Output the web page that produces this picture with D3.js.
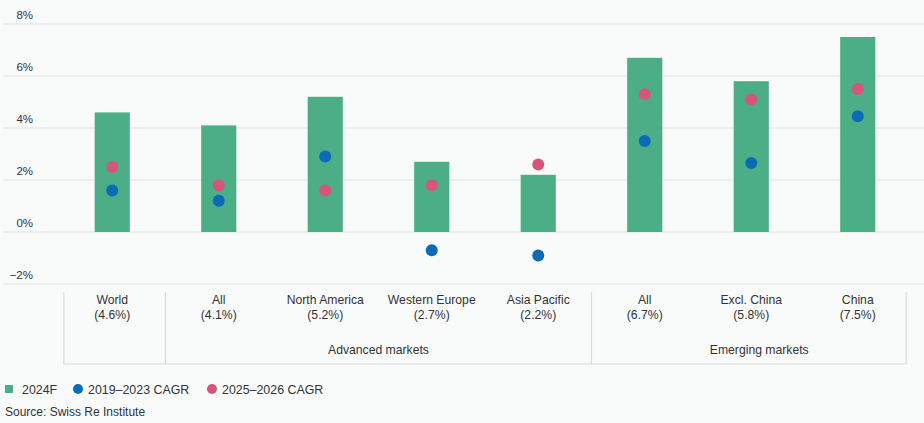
<!DOCTYPE html>
<html>
<head>
<meta charset="utf-8">
<script src="https://cdn.jsdelivr.net/npm/d3@7"></script>
<style>
  body { margin: 0; background: #f9fbfb; }
  svg { display: block; font-family: "Liberation Sans", Arial, sans-serif; }
</style>
</head>
<body>
<div id="chart"></div>
<script>
// categories and series
var categories = ["World", "All", "North America", "Western Europe", "Asia Pacific", "All", "Excl. China", "China"]
var keys = ["world", "adv_all", "na", "we", "ap", "em_all", "em_xcn", "cn"]
var bar2024 = [4.6, 4.1, 5.2, 2.7, 2.2, 6.7, 5.8, 7.5]
var cagr1923 = [1.6, 1.2, 2.9, -0.7, -0.9, 3.5, 2.65, 4.45]
var cagr2526 = [2.5, 1.8, 1.6, 1.8, 2.6, 5.3, 5.1, 5.5]
var yTicks = [-2, 0, 2, 4, 6, 8]
var groups = [
  {name: "Advanced markets", from: 1, to: 4},
  {name: "Emerging markets", from: 5, to: 7}
]
var seriesNames = ["2024F", "2019\u20132023 CAGR", "2025\u20132026 CAGR"]

var width = 924, height = 423
var colors = {bar: "#4bae86", blue: "#0b6bb7", pink: "#d6557d"}

var svg = d3.select("#chart").append("svg")
  .attr("width", width)
  .attr("height", height)

var yScale = d3.scaleLinear().domain([-2, 8]).range([284, 24])
var xScale = d3.scaleBand().domain(keys).range([59, 911])
  .paddingInner(0.67).paddingOuter(0.335)
var step = xScale.step()
var cx = k => xScale(k) + xScale.bandwidth() / 2

// gridlines + tick labels
var grid = svg.append("g")
grid.selectAll("line").data(yTicks).enter().append("line")
  .attr("x1", 3).attr("x2", width)
  .attr("y1", d => yScale(d)).attr("y2", d => yScale(d))
  .attr("stroke", "#e2e4e4").attr("stroke-width", 1.2)
grid.selectAll("text").data(yTicks).enter().append("text")
  .attr("x", 33).attr("y", d => yScale(d) - 5)
  .attr("text-anchor", "end")
  .attr("font-size", 11.5).attr("fill", "#333")
  .text(d => (d < 0 ? "\u2212" + Math.abs(d) : d) + "%")

// bars
svg.append("g").selectAll("rect").data(keys).enter().append("rect")
  .attr("x", d => xScale(d))
  .attr("y", (d, i) => yScale(bar2024[i]))
  .attr("width", xScale.bandwidth())
  .attr("height", (d, i) => yScale(0) - yScale(bar2024[i]))
  .attr("fill", colors.bar)

// dots
var dots = svg.append("g")
dots.selectAll(".blue").data(keys).enter().append("circle")
  .attr("class", "blue")
  .attr("cx", d => cx(d))
  .attr("cy", (d, i) => yScale(cagr1923[i]))
  .attr("r", 6).attr("fill", colors.blue)
dots.selectAll(".pink").data(keys).enter().append("circle")
  .attr("class", "pink")
  .attr("cx", d => cx(d))
  .attr("cy", (d, i) => yScale(cagr2526[i]))
  .attr("r", 6).attr("fill", colors.pink)

// category labels
var labels = svg.append("g").attr("font-size", 12.2).attr("fill", "#333").attr("text-anchor", "middle")
labels.selectAll(".name").data(keys).enter().append("text")
  .attr("x", d => cx(d)).attr("y", 304)
  .text((d, i) => categories[i])
labels.selectAll(".val").data(keys).enter().append("text")
  .attr("x", d => cx(d)).attr("y", 319)
  .text((d, i) => "(" + bar2024[i].toFixed(1) + "%)")

// category box: separators
var lineCol = "#d9dbdb"
var leftEdge = cx(keys[0]) - step * 0.455
var rightEdge = cx(keys[keys.length - 1]) + step * 0.455
var seps = [leftEdge, (cx(keys[0]) + cx(keys[1])) / 2, (cx(keys[4]) + cx(keys[5])) / 2, rightEdge]
svg.append("g").selectAll("line").data(seps).enter().append("line")
  .attr("x1", d => d).attr("x2", d => d)
  .attr("y1", 292).attr("y2", 364)
  .attr("stroke", lineCol).attr("stroke-width", 1.2)
svg.append("line")
  .attr("x1", leftEdge).attr("x2", rightEdge)
  .attr("y1", 364).attr("y2", 364)
  .attr("stroke", lineCol).attr("stroke-width", 1.2)

// group labels
svg.append("g").selectAll("text").data(groups).enter().append("text")
  .attr("x", d => d.name == "Advanced markets"
    ? (seps[1] + seps[2]) / 2
    : cx(keys[6]) + 8)
  .attr("y", 354)
  .attr("text-anchor", "middle")
  .attr("font-size", 12.2).attr("fill", "#333")
  .text(d => d.name)

// legend
var legend = svg.append("g").attr("font-size", 12.4).attr("fill", "#333")
legend.append("rect").attr("x", 5).attr("y", 385).attr("width", 8).attr("height", 8).attr("fill", colors.bar)
legend.append("text").attr("x", 22).attr("y", 393.5).text(seriesNames[0])
legend.append("circle").attr("cx", 78).attr("cy", 389).attr("r", 5).attr("fill", colors.blue)
legend.append("text").attr("x", 88).attr("y", 393.5).text(seriesNames[1])
legend.append("circle").attr("cx", 212).attr("cy", 389).attr("r", 5).attr("fill", colors.pink)
legend.append("text").attr("x", 222).attr("y", 393.5).text(seriesNames[2])

svg.append("text")
  .attr("x", 5).attr("y", 416)
  .attr("font-size", 12).attr("fill", "#333")
  .text("Source: Swiss Re Institute")
</script>
</body>
</html>
